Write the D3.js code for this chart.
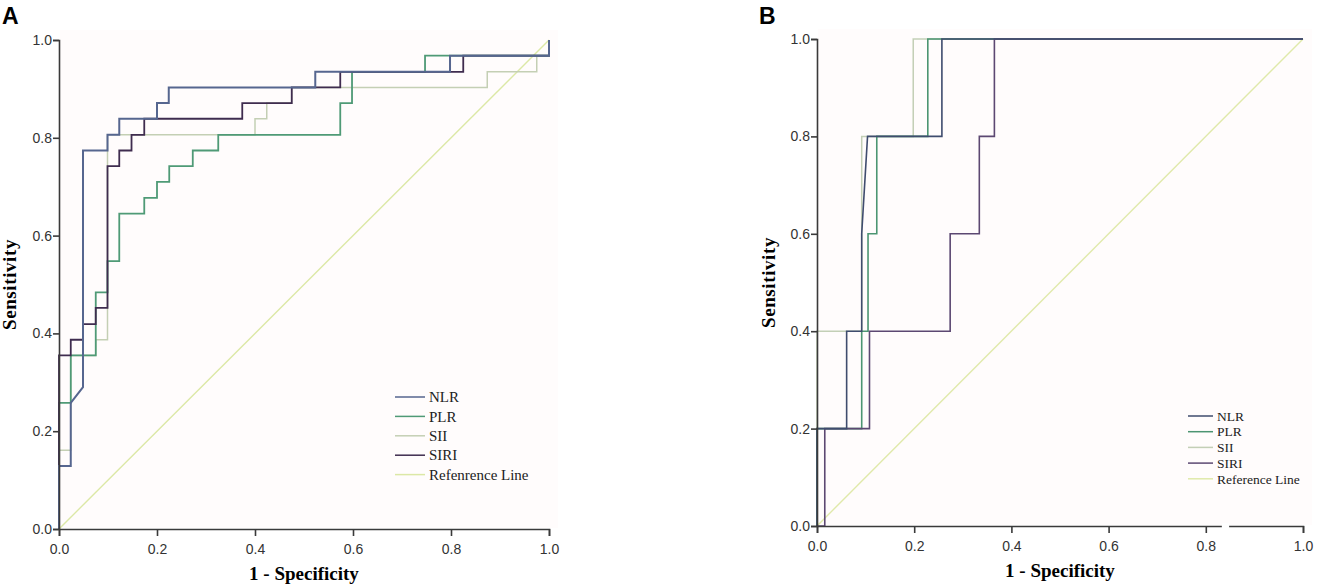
<!DOCTYPE html>
<html>
<head>
<meta charset="utf-8">
<script src="https://cdn.jsdelivr.net/npm/d3@7"></script>
<style>
body { margin: 0; background: #fff; }
</style>
</head>
<body>
<script>
var series = ["NLR", "PLR", "SII", "SIRI"]
var ticks = [0, 0.2, 0.4, 0.6, 0.8, 1.0]

// panel A (1 - specificity, sensitivity)
var aNLR = [[0,0],[0,0.129],[0.024,0.129],[0.024,0.258],[0.049,0.29],[0.049,0.774],[0.099,0.774],[0.099,0.806],[0.123,0.806],[0.123,0.839],[0.2,0.839],[0.2,0.871],[0.224,0.871],[0.224,0.903],[0.523,0.903],[0.523,0.935],[0.798,0.935],[0.798,0.968],[1,0.968],[1,1]]
var aPLR = [[0,0],[0,0.258],[0.024,0.258],[0.024,0.355],[0.075,0.355],[0.075,0.484],[0.099,0.484],[0.099,0.548],[0.123,0.548],[0.123,0.645],[0.174,0.645],[0.174,0.677],[0.2,0.677],[0.2,0.71],[0.225,0.71],[0.225,0.742],[0.273,0.742],[0.273,0.774],[0.325,0.774],[0.325,0.806],[0.574,0.806],[0.574,0.871],[0.598,0.871],[0.598,0.935],[0.747,0.935],[0.747,0.968],[1,0.968],[1,1]]
var aSII = [[0,0],[0,0.161],[0.024,0.161],[0.024,0.355],[0.075,0.355],[0.075,0.387],[0.099,0.387],[0.099,0.806],[0.4,0.806],[0.4,0.839],[0.424,0.839],[0.424,0.871],[0.475,0.871],[0.475,0.903],[0.874,0.903],[0.874,0.935],[0.975,0.935],[0.975,0.968],[1,0.968],[1,1]]
var aSIRI = [[0,0],[0,0.355],[0.024,0.355],[0.024,0.387],[0.049,0.387],[0.049,0.419],[0.075,0.419],[0.075,0.452],[0.099,0.452],[0.099,0.742],[0.123,0.742],[0.123,0.774],[0.148,0.774],[0.148,0.806],[0.174,0.806],[0.174,0.839],[0.374,0.839],[0.374,0.871],[0.475,0.871],[0.475,0.903],[0.574,0.903],[0.574,0.935],[0.825,0.935],[0.825,0.968],[1,0.968],[1,1]]

// panel B
var bNLR = [[0,0],[0,0.2],[0.061,0.2],[0.061,0.4],[0.092,0.4],[0.092,0.6],[0.104,0.8],[0.257,0.8],[0.257,1],[1,1]]
var bPLR = [[0,0],[0,0.2],[0.092,0.2],[0.092,0.4],[0.105,0.4],[0.105,0.6],[0.123,0.6],[0.123,0.8],[0.228,0.8],[0.228,1],[1,1]]
var bSII = [[0,0],[0,0.4],[0.092,0.4],[0.092,0.8],[0.198,0.8],[0.198,1],[1,1]]
var bSIRI = [[0,0],[0.016,0],[0.016,0.2],[0.108,0.2],[0.108,0.4],[0.274,0.4],[0.274,0.6],[0.334,0.6],[0.334,0.8],[0.365,0.8],[0.365,1],[1,1]]

var refLine = [[0,0],[1,1]]

var svg = d3.select("body")
.append("svg")
.attr("width", 1317)
.attr("height", 588);

function drawPanel(p) {
	var x = d3.scaleLinear().domain([0, 1]).range([p.x0, p.x1])
	var y = d3.scaleLinear().domain([0, 1]).range([p.y0, p.y1])
	var g = svg.append("g")

	g.append("rect")
		.attr("x", x(0) + 1)
		.attr("y", y(1) - 10)
		.attr("width", x(1) - x(0) + 8)
		.attr("height", y(0) - y(1) + 9)
		.attr("fill", "#fffcfc");

	var line = d3.line()
		.x(function(d) { return x(d[0]) })
		.y(function(d) { return y(d[1]) });

	g.append("path")
		.attr("d", line(refLine))
		.attr("fill", "none")
		.attr("stroke", p.refColor)
		.attr("stroke-width", 1.4);

	// draw order: light first, dark on top
	var order = [2, 1, 3, 0]
	order.forEach(function(i) {
		g.append("path")
			.attr("d", line(p.data[i]))
			.attr("fill", "none")
			.attr("stroke", p.colors[i])
			.attr("stroke-width", p.widths[i])
			.attr("stroke-linejoin", "miter");
	})

	var xAxis = g.append("g")
		.attr("transform", "translate(0," + y(0) + ")")
		.call(d3.axisBottom(x).tickValues(ticks).tickFormat(d3.format(".1f")).tickSizeOuter(0).tickSize(7))
	var yAxis = g.append("g")
		.attr("transform", "translate(" + x(0) + ",0)")
		.call(d3.axisLeft(y).tickValues(ticks).tickFormat(d3.format(".1f")).tickSizeOuter(0).tickSize(6))

	;[xAxis, yAxis].forEach(function(a) {
		a.select(".domain").attr("stroke", "#3a3a3a").attr("stroke-width", 1.6)
		a.selectAll(".tick line").attr("stroke", "#3a3a3a").attr("stroke-width", 1.6)
		a.selectAll(".tick text")
			.attr("fill", "#333")
			.style("font-family", "'Liberation Sans', Arial, sans-serif")
			.style("font-size", "14px")
	})
	xAxis.selectAll(".tick text").attr("dy", "1.1em")
	yAxis.selectAll(".tick text").attr("x", -7)

	if (p.gap) {
		g.append("rect")
			.attr("x", x(p.gap[0]))
			.attr("y", y(0) - 3)
			.attr("width", x(p.gap[1]) - x(p.gap[0]))
			.attr("height", 6)
			.attr("fill", "#fff");
	}

	g.append("text")
		.attr("x", (x(0) + x(1)) / 2)
		.attr("y", p.y0 + 51)
		.attr("text-anchor", "middle")
		.style("font-family", "'Liberation Serif', 'Times New Roman', serif")
		.style("font-weight", "bold")
		.style("font-size", "19px")
		.text("1 - Specificity");

	g.append("text")
		.attr("transform", "translate(" + p.ylabX + "," + (y(0) + y(1)) / 2 + ") rotate(-90)")
		.attr("text-anchor", "middle")
		.style("font-family", "'Liberation Serif', 'Times New Roman', serif")
		.style("font-weight", "bold")
		.style("font-size", "19px")
		.style("letter-spacing", "0.6px")
		.text("Sensitivity");

	g.append("text")
		.attr("x", p.letterX)
		.attr("y", 24)
		.style("font-family", "'Liberation Sans', Arial, sans-serif")
		.style("font-weight", "bold")
		.style("font-size", "23px")
		.text(p.letter);

	var names = series.concat([p.refName])
	var cols = p.colors.concat([p.refColor])
	var lg = g.append("g")
		.attr("transform", "translate(" + p.legX + "," + p.legY + ")")
	names.forEach(function(n, i) {
		lg.append("line")
			.attr("x1", 0)
			.attr("x2", p.legLine)
			.attr("y1", i * p.legStep)
			.attr("y2", i * p.legStep)
			.attr("stroke", cols[i])
			.attr("stroke-width", 1.5);
		lg.append("text")
			.attr("x", p.legLine + 4)
			.attr("y", i * p.legStep)
			.attr("dy", "0.35em")
			.attr("fill", "#222")
			.style("font-family", "'Liberation Serif', 'Times New Roman', serif")
			.style("font-size", p.legFont)
			.text(n);
	})
}

drawPanel({
	x0: 59, x1: 549, y0: 529, y1: 40,
	data: [aNLR, aPLR, aSII, aSIRI],
	colors: ["#56668f", "#4f9a76", "#c4cfb4", "#3f2c4f"],
	widths: [2, 1.8, 1.5, 1.8],
	refColor: "#dce8a6",
	refName: "Refenrence Line",
	letter: "A", letterX: 2,
	ylabX: 16,
	legX: 395, legY: 397, legStep: 19.4, legLine: 30, legFont: "15px"
})

drawPanel({
	x0: 817, x1: 1303, y0: 526, y1: 39,
	data: [bNLR, bPLR, bSII, bSIRI],
	colors: ["#3f4c6e", "#4c9572", "#c3cfb6", "#5c4872"],
	widths: [1.6, 1.6, 1.5, 1.6],
	refColor: "#e0e9aa",
	refName: "Reference Line",
	letter: "B", letterX: 759,
	ylabX: 775,
	gap: [0.833, 0.848],
	legX: 1188, legY: 416, legStep: 15.7, legLine: 25, legFont: "13.5px"
})
</script>
</body>
</html>
